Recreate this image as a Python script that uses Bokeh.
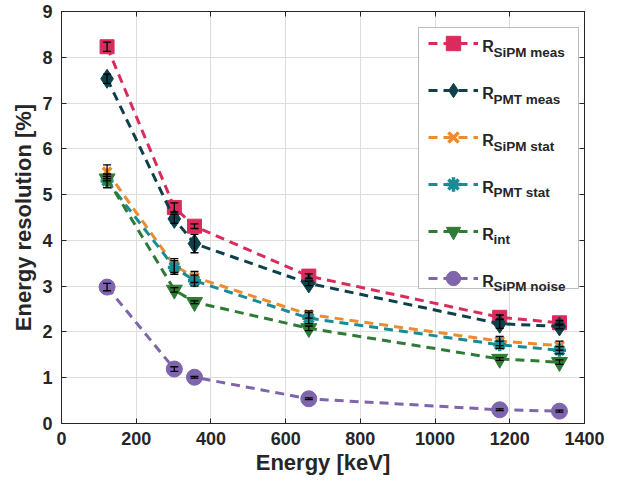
from bokeh.plotting import figure
from bokeh.models import (ColumnDataSource, Whisker, TeeHead, LinearAxis, FixedTicker,
                          Legend, LegendItem, BoxAnnotation, Label, Range1d)
from bokeh.embed import file_html
from bokeh.resources import INLINE

# ---------------- data ----------------
energy = [122, 302, 356, 662, 1173, 1333]

sipm_meas = [8.23, 4.72, 4.31, 3.22, 2.32, 2.20]
sipm_meas_err = [0.10, 0.10, 0.05, 0.05, 0.05, 0.05]

pmt_meas = [7.53, 4.47, 3.93, 3.06, 2.18, 2.12]
pmt_meas_err = [0.10, 0.10, 0.20, 0.05, 0.10, 0.05]

sipm_stat = [5.50, 3.45, 3.20, 2.38, 1.80, 1.70]
sipm_stat_err = [0.15, 0.15, 0.12, 0.08, 0.10, 0.10]

pmt_stat = [5.30, 3.41, 3.12, 2.30, 1.72, 1.60]
pmt_stat_err = [0.15, 0.15, 0.12, 0.12, 0.08, 0.08]

r_int = [5.35, 2.92, 2.65, 2.08, 1.41, 1.34]
r_int_err = [0.05, 0.05, 0.03, 0.05, 0.03, 0.05]

sipm_noise = [2.98, 1.19, 1.01, 0.54, 0.30, 0.27]
sipm_noise_err = [0.08, 0.05, 0.02, 0.02, 0.02, 0.02]

legend_main = ["R", "R", "R", "R", "R", "R"]
legend_subs = ["SiPM meas", "PMT meas", "SiPM stat", "PMT stat", "int", "SiPM noise"]

x_ticks = [0, 200, 400, 600, 800, 1000, 1200, 1400]
y_ticks = [0, 1, 2, 3, 4, 5, 6, 7, 8, 9]

# ---------------- styling ----------------
FONT = "Liberation Sans"
TXT = "#262626"

series = [
    (sipm_meas, sipm_meas_err, "#DA2C5C", "square", 14, 1),
    (pmt_meas, pmt_meas_err, "#0E404B", "diamond", 19, 1),
    (sipm_stat, sipm_stat_err, "#EE8B2F", "x", 12, 3.5),
    (pmt_stat, pmt_stat_err, "#1A8B93", "asterisk", 13, 3.5),
    (r_int, r_int_err, "#2F7A34", "inverted_triangle", 16, 1),
    (sipm_noise, sipm_noise_err, "#7E65AC", "circle", 16, 1),
]

p = figure(width=624, height=483, output_backend="svg", toolbar_location=None,
           x_range=Range1d(0, 1400), y_range=Range1d(0, 9),
           min_border_left=61, min_border_right=40, min_border_top=11, min_border_bottom=60)
p.outline_line_color = TXT
p.outline_line_width = 1
p.background_fill_color = "white"
p.border_fill_color = "white"

for ax, ticks in ((p.xaxis[0], x_ticks), (p.yaxis[0], y_ticks)):
    ax.ticker = FixedTicker(ticks=ticks)
    ax.major_tick_in = 5
    ax.major_tick_out = 0
    ax.minor_tick_in = 0
    ax.minor_tick_out = 0
    ax.axis_line_color = TXT
    ax.major_tick_line_color = TXT
    ax.major_label_text_font = FONT
    ax.major_label_text_font_style = "bold"
    ax.major_label_text_font_size = "18px"
    ax.major_label_text_color = TXT
    ax.axis_label_text_font = FONT
    ax.axis_label_text_font_style = "bold"
    ax.axis_label_text_font_size = "22px"
    ax.axis_label_text_color = TXT

p.xaxis[0].axis_label = "Energy [keV]"
p.yaxis[0].axis_label = "Energy resolution [%]"
p.xaxis[0].major_label_standoff = 8
p.xaxis[0].axis_label_standoff = 2
p.yaxis[0].major_label_standoff = 9
p.yaxis[0].axis_label_standoff = 3

p.xgrid.ticker = FixedTicker(ticks=x_ticks)
p.ygrid.ticker = FixedTicker(ticks=y_ticks)
p.xgrid.grid_line_color = "#DEDEDE"
p.ygrid.grid_line_color = "#DEDEDE"

# ticks on top/right (box style), no labels
top_ax = LinearAxis(ticker=FixedTicker(ticks=x_ticks), major_tick_in=5, major_tick_out=0,
                    minor_tick_in=0, minor_tick_out=0, major_label_text_font_size="6px",
                    major_label_overrides={t: "" for t in x_ticks},
                    major_label_standoff=0, axis_line_color=TXT, major_tick_line_color=TXT)
right_ax = LinearAxis(ticker=FixedTicker(ticks=y_ticks), major_tick_in=5, major_tick_out=0,
                      minor_tick_in=0, minor_tick_out=0, major_label_text_font_size="6px",
                      major_label_overrides={t: "" for t in y_ticks},
                      major_label_standoff=0, axis_line_color=TXT, major_tick_line_color=TXT)
p.add_layout(top_ax, "above")
p.add_layout(right_ax, "right")

items = []
whisk_sources = []
for (vals, errs, color, marker, size, lw) in series:
    src = ColumnDataSource(dict(x=energy, y=vals,
                                lo=[v - e for v, e in zip(vals, errs)],
                                hi=[v + e for v, e in zip(vals, errs)]))
    ln = p.line("x", "y", source=src, line_color=color, line_width=3, line_dash="9 6")
    if marker in ("x", "asterisk"):
        sc = p.scatter("x", "y", source=src, marker=marker, size=size,
                       line_color=color, line_width=lw)
    else:
        sc = p.scatter("x", "y", source=src, marker=marker, size=size,
                       fill_color=color, line_color=color, line_width=lw)
    items.append(LegendItem(label=" ", renderers=[ln, sc]))
    whisk_sources.append(src)

for src in whisk_sources:
    w = Whisker(base="x", lower="lo", upper="hi", source=src, dimension="height",
                line_color="black", line_width=1.3, level="annotation",
                upper_head=TeeHead(size=8, line_color="black", line_width=1.3),
                lower_head=TeeHead(size=8, line_color="black", line_width=1.3))
    p.add_layout(w)

# legend box
box = BoxAnnotation(left=357, right=517, top=396, bottom=135,
                    left_units="screen", right_units="screen",
                    top_units="screen", bottom_units="screen",
                    fill_color="white", fill_alpha=1.0,
                    line_color=TXT, line_width=1, level="annotation")
p.add_layout(box)

legend = Legend(items=items, location=(367, 127), orientation="vertical",
                glyph_width=50, glyph_height=36, label_height=36, spacing=11,
                padding=0, margin=0, label_standoff=0, label_width=10,
                border_line_alpha=0, background_fill_alpha=0)
p.add_layout(legend)

for i, (main, sub) in enumerate(zip(legend_main, legend_subs)):
    p.add_layout(Label(x=420.7, y=377 - 46.9 * i, x_units="screen", y_units="screen",
                       text=main, text_font=FONT, text_font_style="bold",
                       text_font_size="16px", text_color=TXT, text_baseline="alphabetic"))
    p.add_layout(Label(x=432, y=371.3 - 46.9 * i, x_units="screen", y_units="screen",
                       text=sub, text_font=FONT, text_font_style="bold",
                       text_font_size="13.5px", text_color=TXT, text_baseline="alphabetic"))

open("out.html", "w").write(file_html(p, INLINE))
